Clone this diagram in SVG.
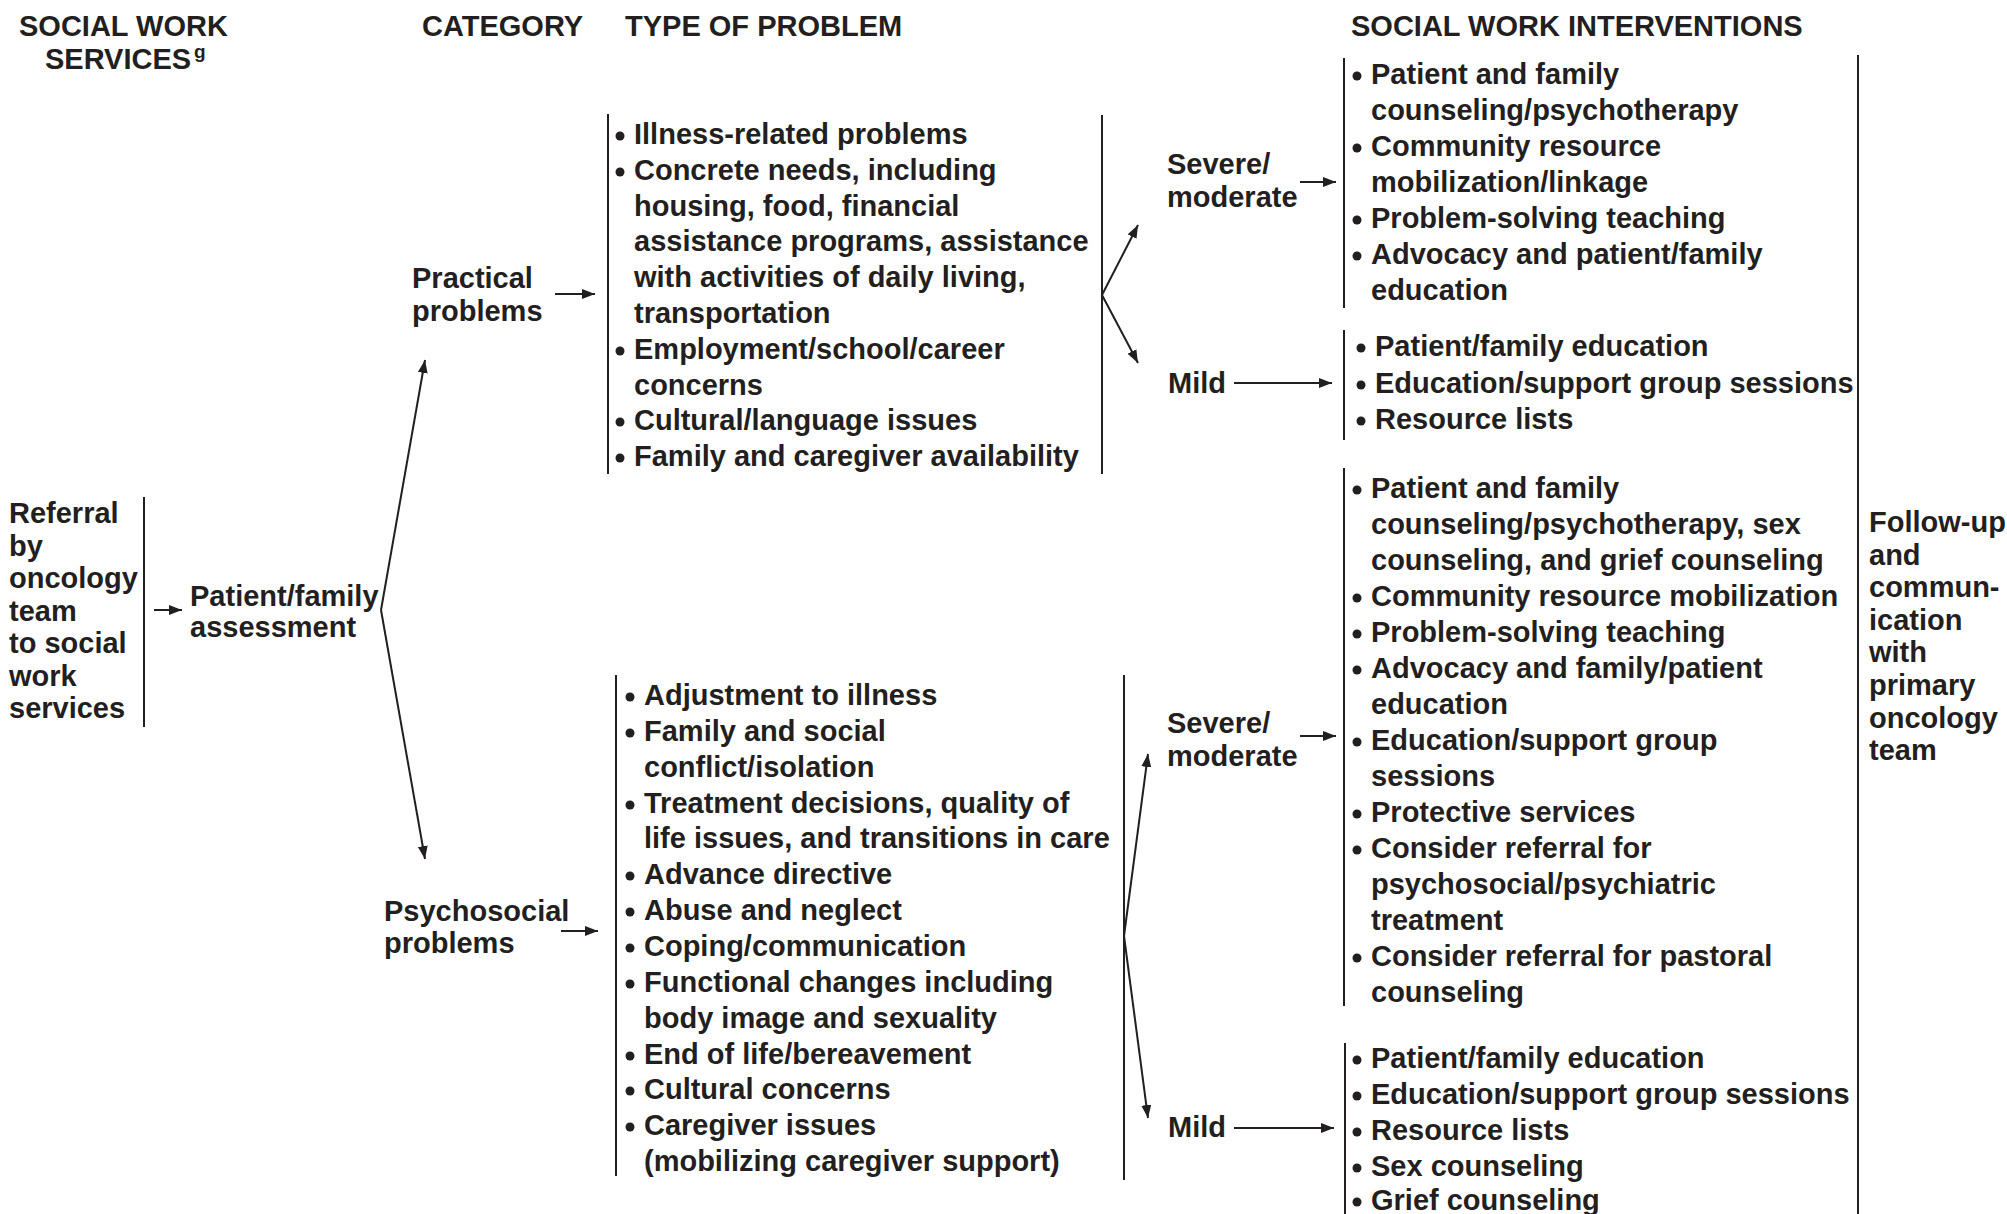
<svg xmlns="http://www.w3.org/2000/svg" width="2007" height="1214" viewBox="0 0 2007 1214">
  <style>
    text { font-family: "Liberation Sans", Arial, sans-serif; font-weight: bold; font-size: 29px; fill: #231f20; }
    .sup { font-size: 19px; }
    .dot { fill: #231f20; }
    .bar { stroke: #231f20; stroke-width: 2; fill: none; }
    .conn line { stroke: #231f20; stroke-width: 2; fill: none; marker-end: url(#arrow); }
  </style>
  <defs>
    <marker id="arrow" markerUnits="userSpaceOnUse" markerWidth="14" markerHeight="11" refX="13" refY="5" orient="auto">
      <path d="M0,0 L13,5 L0,10 z" fill="#231f20"/>
    </marker>
    <circle id="bullet" r="4.5" class="dot"/>
  </defs>
  <rect width="2007" height="1214" fill="#ffffff"/>

  <!-- column headings -->
  <g id="headings">
    <text x="19" y="36">SOCIAL WORK</text>
    <text x="45" y="69">SERVICES<tspan class="sup" x="194" y="58">g</tspan></text>
    <text x="422" y="36">CATEGORY</text>
    <text x="625" y="36">TYPE OF PROBLEM</text>
    <text x="1351" y="36">SOCIAL WORK INTERVENTIONS</text>
  </g>

  <!-- referral -->
  <g id="referral">
    <text x="9" y="523">Referral</text>
    <text x="9" y="556">by</text>
    <text x="9" y="588">oncology</text>
    <text x="9" y="621">team</text>
    <text x="9" y="653">to social</text>
    <text x="9" y="686">work</text>
    <text x="9" y="718">services</text>
    <line class="bar" x1="144" y1="497" x2="144" y2="727"/>
  </g>

  <g id="assessment">
    <text x="190" y="606">Patient/family</text>
    <text x="190" y="637">assessment</text>
  </g>

  <g id="practical">
    <text x="412" y="288">Practical</text>
    <text x="412" y="321">problems</text>
  </g>

  <g id="psychosocial">
    <text x="384" y="921">Psychosocial</text>
    <text x="384" y="953">problems</text>
  </g>

  <!-- practical problem types -->
  <g id="practical-types">
    <line class="bar" x1="608" y1="114" x2="608" y2="474"/>
    <line class="bar" x1="1102" y1="115" x2="1102" y2="474"/>
    <use href="#bullet" x="620" y="136"/><text x="634" y="144">Illness-related problems</text>
    <use href="#bullet" x="620" y="172"/><text x="634" y="180">Concrete needs, including</text>
    <text x="634" y="216">housing, food, financial</text>
    <text x="634" y="251">assistance programs, assistance</text>
    <text x="634" y="287">with activities of daily living,</text>
    <text x="634" y="323">transportation</text>
    <use href="#bullet" x="620" y="351"/><text x="634" y="359">Employment/school/career</text>
    <text x="634" y="395">concerns</text>
    <use href="#bullet" x="620" y="422"/><text x="634" y="430">Cultural/language issues</text>
    <use href="#bullet" x="620" y="458"/><text x="634" y="466">Family and caregiver availability</text>
  </g>

  <!-- psychosocial problem types -->
  <g id="psychosocial-types">
    <line class="bar" x1="616" y1="675" x2="616" y2="1176"/>
    <line class="bar" x1="1124" y1="675" x2="1124" y2="1180"/>
    <use href="#bullet" x="630" y="697"/><text x="644" y="705">Adjustment to illness</text>
    <use href="#bullet" x="630" y="733"/><text x="644" y="741">Family and social</text>
    <text x="644" y="777">conflict/isolation</text>
    <use href="#bullet" x="630" y="805"/><text x="644" y="813">Treatment decisions, quality of</text>
    <text x="644" y="848">life issues, and transitions in care</text>
    <use href="#bullet" x="630" y="876"/><text x="644" y="884">Advance directive</text>
    <use href="#bullet" x="630" y="912"/><text x="644" y="920">Abuse and neglect</text>
    <use href="#bullet" x="630" y="948"/><text x="644" y="956">Coping/communication</text>
    <use href="#bullet" x="630" y="984"/><text x="644" y="992">Functional changes including</text>
    <text x="644" y="1028">body image and sexuality</text>
    <use href="#bullet" x="630" y="1056"/><text x="644" y="1064">End of life/bereavement</text>
    <use href="#bullet" x="630" y="1091"/><text x="644" y="1099">Cultural concerns</text>
    <use href="#bullet" x="630" y="1127"/><text x="644" y="1135">Caregiver issues</text>
    <text x="644" y="1171">(mobilizing caregiver support)</text>
  </g>

  <!-- severity labels -->
  <g id="practical-severe">
    <text x="1167" y="174">Severe/</text>
    <text x="1167" y="207">moderate</text>
  </g>
  <g id="practical-mild">
    <text x="1168" y="393">Mild</text>
  </g>
  <g id="psychosocial-severe">
    <text x="1167" y="733">Severe/</text>
    <text x="1167" y="766">moderate</text>
  </g>
  <g id="psychosocial-mild">
    <text x="1168" y="1137">Mild</text>
  </g>

  <!-- interventions: practical, severe/moderate -->
  <g id="interventions-practical-severe">
    <line class="bar" x1="1344" y1="58" x2="1344" y2="308"/>
    <use href="#bullet" x="1357" y="76"/><text x="1371" y="84">Patient and family</text>
    <text x="1371" y="120">counseling/psychotherapy</text>
    <use href="#bullet" x="1357" y="148"/><text x="1371" y="156">Community resource</text>
    <text x="1371" y="192">mobilization/linkage</text>
    <use href="#bullet" x="1357" y="220"/><text x="1371" y="228">Problem-solving teaching</text>
    <use href="#bullet" x="1357" y="256"/><text x="1371" y="264">Advocacy and patient/family</text>
    <text x="1371" y="300">education</text>
  </g>

  <!-- interventions: practical, mild -->
  <g id="interventions-practical-mild">
    <line class="bar" x1="1344" y1="330" x2="1344" y2="440"/>
    <use href="#bullet" x="1361" y="348"/><text x="1375" y="356">Patient/family education</text>
    <use href="#bullet" x="1361" y="385"/><text x="1375" y="393">Education/support group sessions</text>
    <use href="#bullet" x="1361" y="421"/><text x="1375" y="429">Resource lists</text>
  </g>

  <!-- interventions: psychosocial, severe/moderate -->
  <g id="interventions-psychosocial-severe">
    <line class="bar" x1="1344" y1="468" x2="1344" y2="1006"/>
    <use href="#bullet" x="1357" y="490"/><text x="1371" y="498">Patient and family</text>
    <text x="1371" y="534">counseling/psychotherapy, sex</text>
    <text x="1371" y="570">counseling, and grief counseling</text>
    <use href="#bullet" x="1357" y="598"/><text x="1371" y="606">Community resource mobilization</text>
    <use href="#bullet" x="1357" y="634"/><text x="1371" y="642">Problem-solving teaching</text>
    <use href="#bullet" x="1357" y="670"/><text x="1371" y="678">Advocacy and family/patient</text>
    <text x="1371" y="714">education</text>
    <use href="#bullet" x="1357" y="742"/><text x="1371" y="750">Education/support group</text>
    <text x="1371" y="786">sessions</text>
    <use href="#bullet" x="1357" y="814"/><text x="1371" y="822">Protective services</text>
    <use href="#bullet" x="1357" y="850"/><text x="1371" y="858">Consider referral for</text>
    <text x="1371" y="894">psychosocial/psychiatric</text>
    <text x="1371" y="930">treatment</text>
    <use href="#bullet" x="1357" y="958"/><text x="1371" y="966">Consider referral for pastoral</text>
    <text x="1371" y="1002">counseling</text>
  </g>

  <!-- interventions: psychosocial, mild -->
  <g id="interventions-psychosocial-mild">
    <line class="bar" x1="1345" y1="1043" x2="1345" y2="1214"/>
    <use href="#bullet" x="1357" y="1060"/><text x="1371" y="1068">Patient/family education</text>
    <use href="#bullet" x="1357" y="1096"/><text x="1371" y="1104">Education/support group sessions</text>
    <use href="#bullet" x="1357" y="1132"/><text x="1371" y="1140">Resource lists</text>
    <use href="#bullet" x="1357" y="1168"/><text x="1371" y="1176">Sex counseling</text>
    <use href="#bullet" x="1357" y="1202"/><text x="1371" y="1210">Grief counseling</text>
  </g>

  <!-- follow-up -->
  <g id="follow-up">
    <line class="bar" x1="1858" y1="55" x2="1858" y2="1214"/>
    <text x="1869" y="532">Follow-up</text>
    <text x="1869" y="565">and</text>
    <text x="1869" y="597">commun-</text>
    <text x="1869" y="630">ication</text>
    <text x="1869" y="662">with</text>
    <text x="1869" y="695">primary</text>
    <text x="1869" y="728">oncology</text>
    <text x="1869" y="760">team</text>
  </g>

  <!-- connectors -->
  <g id="connectors" class="conn">
    <line x1="154" y1="610" x2="182" y2="610"/>
    <line x1="381" y1="610" x2="425" y2="360"/>
    <line x1="381" y1="610" x2="425" y2="859"/>
    <line x1="555" y1="294" x2="595" y2="294"/>
    <line x1="561" y1="931" x2="598" y2="931"/>
    <line x1="1102" y1="295" x2="1138" y2="225"/>
    <line x1="1102" y1="295" x2="1138" y2="363"/>
    <line x1="1300" y1="182" x2="1336" y2="182"/>
    <line x1="1234" y1="383" x2="1332" y2="383"/>
    <line x1="1124" y1="936" x2="1148" y2="754"/>
    <line x1="1124" y1="936" x2="1148" y2="1118"/>
    <line x1="1300" y1="736" x2="1336" y2="736"/>
    <line x1="1234" y1="1128" x2="1334" y2="1128"/>
  </g>
</svg>
